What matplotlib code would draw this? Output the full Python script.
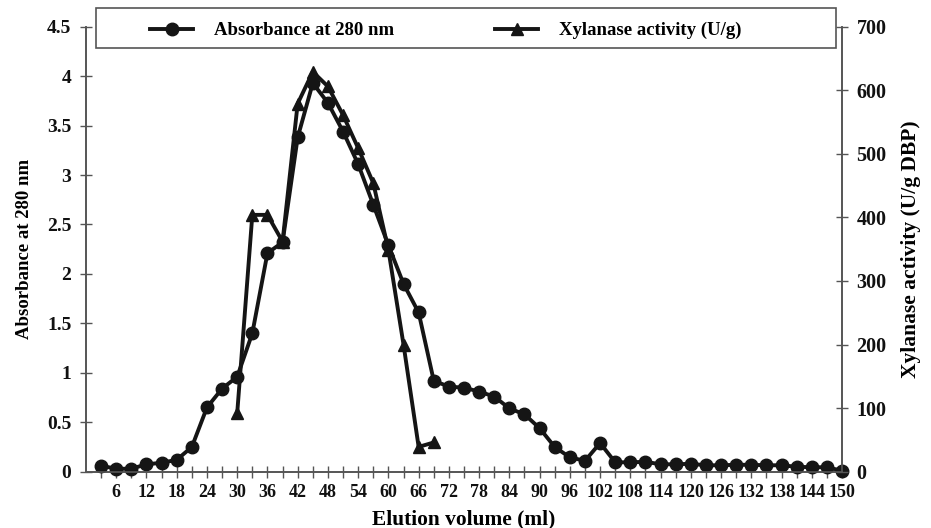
import matplotlib
matplotlib.use("Agg")
import matplotlib.pyplot as plt
from matplotlib.lines import Line2D
from matplotlib.patches import Rectangle

plt.rcParams['font.family'] = ['Liberation Serif', 'DejaVu Serif']
plt.rcParams['font.weight'] = 'bold'

# Data
volume_abs = list(range(3, 151, 3))
absorbance = [0.06, 0.03, 0.03, 0.075, 0.09, 0.12, 0.25, 0.65, 0.84, 0.96,
              1.40, 2.21, 2.32, 3.38, 3.93, 3.73, 3.44, 3.11, 2.70, 2.29,
              1.90, 1.61, 0.92, 0.86, 0.85, 0.81, 0.76, 0.64, 0.58, 0.44,
              0.25, 0.145, 0.11, 0.29, 0.095, 0.095, 0.10, 0.075, 0.075, 0.08,
              0.065, 0.065, 0.07, 0.07, 0.065, 0.065, 0.05, 0.045, 0.045, 0.01]
volume_xyl = [30, 33, 36, 39, 42, 45, 48, 51, 54, 57, 60, 63, 66, 69]
xylanase = [92, 404, 404, 362, 579, 629, 606, 561, 509, 454, 349, 200, 39, 46]

x_ticks = list(range(3, 151, 3))
x_ticklabels = [str(v) if v % 6 == 0 else "" for v in x_ticks]
y_ticks = [0, 0.5, 1, 1.5, 2, 2.5, 3, 3.5, 4, 4.5]
y_ticklabels = ["0", "0.5", "1", "1.5", "2", "2.5", "3", "3.5", "4", "4.5"]
y2_ticks = [0, 100, 200, 300, 400, 500, 600, 700]

W, H = 931, 528
fig = plt.figure(figsize=(W/100, H/100), dpi=100)
ax = fig.add_axes([86/W, 1 - 471.7/H, (842 - 86)/W, (471.7 - 26.7)/H])
ax2 = ax.twinx()

line_col = '#151515'
spine_col = '#555555'

ax.plot(volume_abs, absorbance, color=line_col, lw=2.8, marker='o', ms=9, clip_on=False, zorder=3)
ax2.plot(volume_xyl, xylanase, color=line_col, lw=2.8, marker='^', ms=9, clip_on=False, zorder=3)

ax.set_xlim(0, 150)
ax.set_ylim(0, 4.5)
ax2.set_ylim(0, 700)

ax.set_xticks(x_ticks)
ax.set_xticklabels(x_ticklabels)
ax.set_yticks(y_ticks)
ax.set_yticklabels(y_ticklabels)
ax2.set_yticks(y2_ticks)

for a in (ax, ax2):
    a.spines['top'].set_visible(False)
    for s in ('left', 'right', 'bottom'):
        a.spines[s].set_color(spine_col)
        a.spines[s].set_linewidth(1.2)
    a.tick_params(direction='inout', length=9, width=1, color=spine_col, labelcolor='#111111')
ax.tick_params(axis='x', length=8, pad=5, labelsize=13)
ax.tick_params(axis='y', pad=6, labelsize=14)
ax2.tick_params(axis='y', pad=6, labelsize=14.5)

ax.set_xlabel("Elution volume (ml)", fontsize=15.4, fontweight='bold', labelpad=6)
ax.set_ylabel("Absorbance at 280 nm", fontsize=13.5, fontweight='bold', labelpad=10)
ax2.set_ylabel("Xylanase activity (U/g DBP)", fontsize=15.5, fontweight='bold', labelpad=10)

# legend box
fig.patches.append(Rectangle((96/W, 1 - 48/H), 740/W, 40/H, transform=fig.transFigure,
                             facecolor='white', edgecolor=spine_col, lw=1.2, zorder=5))

handles = [Line2D([], [], color=line_col, lw=2.8, marker='o', ms=9),
           Line2D([], [], color=line_col, lw=2.8, marker='^', ms=9)]
labels = ["Absorbance at 280 nm", "Xylanase activity (U/g)"]
leg = fig.legend(handles, labels, ncol=2, loc='center left',
                 bbox_to_anchor=(150/W, 1 - 30.5/H),
                 borderaxespad=0, borderpad=0, frameon=False,
                 prop={'size': 13.5, 'weight': 'bold'}, handlelength=2.3,
                 handletextpad=1.1, columnspacing=5.4)
leg.set_zorder(6)

fig.savefig("out.png", dpi=100)
